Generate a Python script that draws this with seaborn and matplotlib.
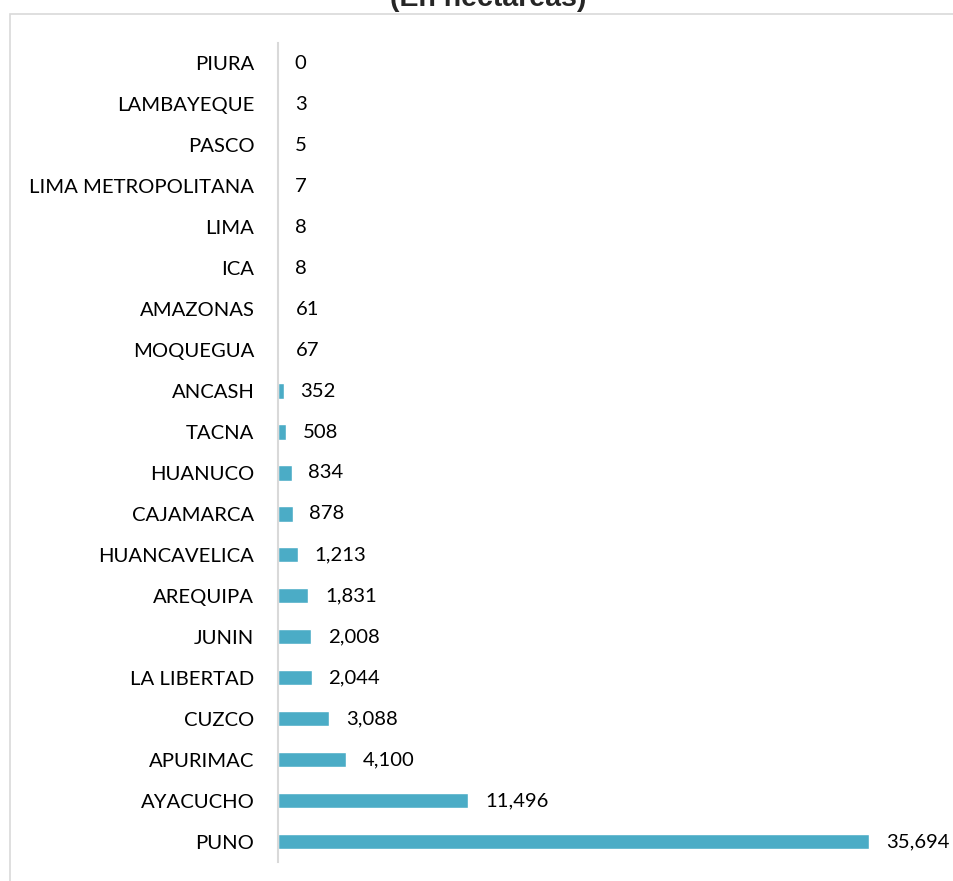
import matplotlib
matplotlib.use("Agg")
import matplotlib.pyplot as plt
from matplotlib.patches import Rectangle
import seaborn as sns

# datos: superficie por region (en hectareas)
regiones = ['PIURA', 'LAMBAYEQUE', 'PASCO', 'LIMA METROPOLITANA', 'LIMA', 'ICA',
            'AMAZONAS', 'MOQUEGUA', 'ANCASH', 'TACNA', 'HUANUCO', 'CAJAMARCA',
            'HUANCAVELICA', 'AREQUIPA', 'JUNIN', 'LA LIBERTAD', 'CUZCO',
            'APURIMAC', 'AYACUCHO', 'PUNO']
hectareas = [0, 3, 5, 7, 8, 8, 61, 67, 352, 508, 834, 878, 1213, 1831, 2008,
             2044, 3088, 4100, 11496, 35694]
etiquetas = [f"{v:,}" for v in hectareas]

sns.set_theme(style="white")
plt.rcParams['font.family'] = ['Lato', 'DejaVu Sans']

W, H = 954, 881
fig = plt.figure(figsize=(W / 100, H / 100), dpi=100)

# recuadro gris del grafico
fig.add_artist(Rectangle((10 / W, -0.1), 2, 1.1 - 14 / H, transform=fig.transFigure,
                         fill=False, edgecolor='#d9d9d9', linewidth=1.2))

ax = fig.add_axes([278 / W, 1 - 862 / H, (W - 278) / W, (862 - 43) / H])
sns.barplot(x=hectareas, y=regiones, orient='h', color='#4bacc6', saturation=1,
            width=0.37, ax=ax)

ax.set_xlim(0, 35694 * 676 / 591)
ax.set_ylim(19.5, -0.5)
ax.set_xlabel('')
ax.set_ylabel('')
ax.set_xticks([])
ax.tick_params(axis='y', length=0, pad=17, labelsize=14.6, labelcolor='#000000')
for lbl in ax.get_yticklabels():
    lbl.set_va('center_baseline')
for lado in ['top', 'right', 'bottom']:
    ax.spines[lado].set_visible(False)
ax.spines['left'].set_color('#d9d9d9')
ax.spines['left'].set_linewidth(1.5)
ax.patch.set_alpha(0)

ax.bar_label(ax.containers[0], labels=etiquetas, padding=12, fontsize=14.6,
             color='#000000', clip_on=False)

fig.text(488 / W, 1 - 6 / H, '(En hectáreas)', ha='center', va='baseline',
         fontsize=20.5, fontweight='bold', family='Liberation Sans')

fig.savefig('out.png', dpi=100)
